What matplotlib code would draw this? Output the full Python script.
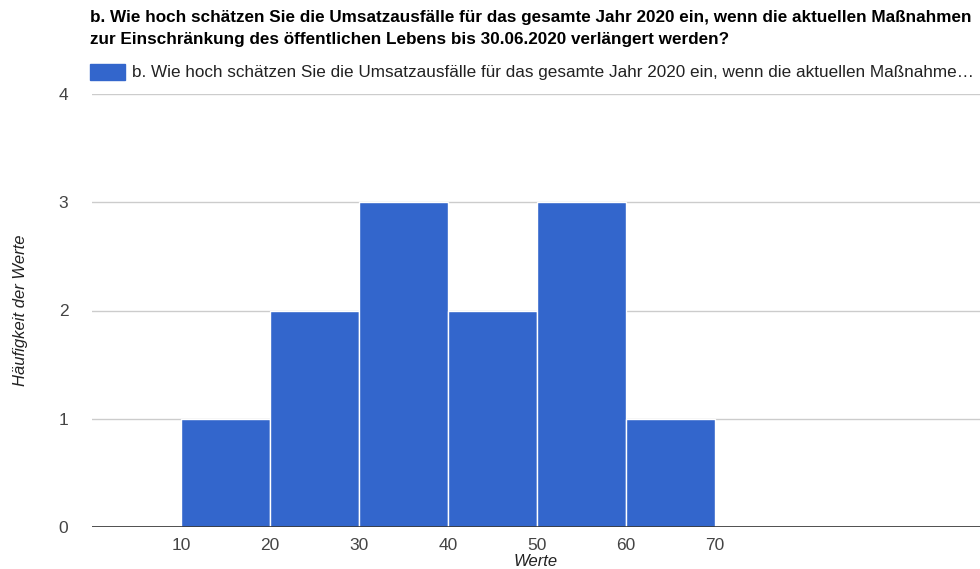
import matplotlib.pyplot as plt

# data
bin_starts = [10, 20, 30, 40, 50, 60]
bin_width = 10
counts = [1, 2, 3, 2, 3, 1]
x_ticks = [10, 20, 30, 40, 50, 60, 70]
y_ticks = [0, 1, 2, 3, 4]

title = ("b. Wie hoch schätzen Sie die Umsatzausfälle für das gesamte Jahr 2020 ein, "
         "wenn die aktuellen Maßnahmen\nzur Einschränkung des öffentlichen Lebens bis "
         "30.06.2020 verlängert werden?")
legend_label = ("b. Wie hoch schätzen Sie die Umsatzausfälle für das gesamte Jahr 2020 ein, "
                "wenn die aktuellen Maßnahme…")

BAR_COLOR = "#3366CC"
W, H = 980, 569

plt.rcParams["font.family"] = ["Liberation Sans", "DejaVu Sans"]

fig = plt.figure(figsize=(W / 100, H / 100), dpi=100)
ax = fig.add_axes([92 / W, (H - 527) / H, (W - 92) / W, (527 - 94) / H])

ax.bar(bin_starts, counts, width=bin_width, align="edge",
       color=BAR_COLOR, edgecolor="white", linewidth=1, zorder=3)

ax.set_xlim(0, 99.8)
ax.set_ylim(0, 4)
ax.set_xticks(x_ticks)
ax.set_yticks(y_ticks)
ax.grid(axis="y", color="#cccccc", linewidth=1, zorder=0)
ax.axhline(0, color="#333333", linewidth=1.2, zorder=4)

for side in ["top", "right", "left", "bottom"]:
    ax.spines[side].set_visible(False)

ax.tick_params(axis="both", length=0, labelsize=12.5, labelcolor="#444444")
ax.tick_params(axis="y", pad=17)
ax.tick_params(axis="x", pad=8)

ax.set_xlabel("Werte", fontsize=12, style="italic", color="#222222", labelpad=1)
ax.set_ylabel("Häufigkeit der Werte", fontsize=12, style="italic", color="#222222", labelpad=22)

fig.text(90 / W, 1 - 10 / H, title, fontsize=12.3, fontweight="bold", color="#000000",
         va="top", ha="left", linespacing=1.6)

# legend entry
fig.patches.append(plt.Rectangle((90 / W, 1 - 80 / H), 35 / W, 16 / H,
                                 transform=fig.transFigure, color=BAR_COLOR))
fig.text(132 / W, 1 - 72 / H, legend_label, fontsize=12.3, color="#222222",
         va="center", ha="left")

fig.savefig("out.png", dpi=100)
